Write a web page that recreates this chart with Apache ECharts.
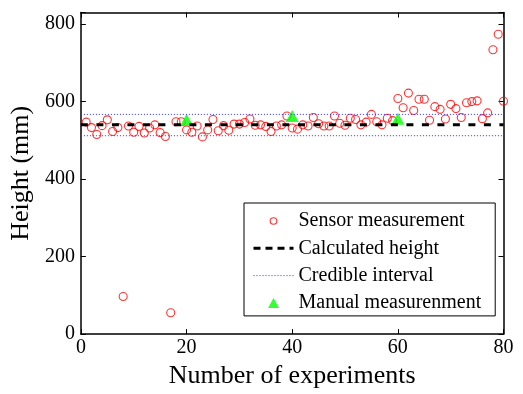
<!DOCTYPE html>
<html><head><meta charset="utf-8">
<script src="https://cdn.jsdelivr.net/npm/echarts@6/dist/echarts.min.js"></script>
<style>html,body{margin:0;padding:0;background:#fff}#c{width:523px;height:394px}</style>
</head><body><div id="c"></div>
<script>
const experiments = [1,2,3,4,5,6,7,8,9,10,11,12,13,14,15,16,17,18,19,20,
  21,22,23,24,25,26,27,28,29,30,31,32,33,34,35,36,37,38,39,40,
  41,42,43,44,45,46,47,48,49,50,51,52,53,54,55,56,57,58,59,60,
  61,62,63,64,65,66,67,68,69,70,71,72,73,74,75,76,77,78,79,80];
const sensorHeight = [547,533,515,538,553,523,533,97,537,521,
  536,519,532,540,520,510,55,548,548,527,
  521,537,509,527,554,525,538,526,542,542,
  546,555,539,540,536,523,537,540,563,532,
  529,540,537,559,543,537,537,563,544,539,
  557,554,540,547,567,548,540,557,551,608,
  584,622,577,606,606,552,587,580,555,593,
  582,559,597,600,602,556,571,734,774,601];
const manualExperiments = [20,40,60];
const manualHeight = [553,563,556];
const calculatedHeight = 540;
const credibleUpper = 567;
const credibleLower = 512;
const lineRange = [0,80];
const xTicks = [0,20,40,60,80];
const yTicks = [0,200,400,600,800];

const FONT = 'Liberation Serif';
const chart = echarts.init(document.getElementById('c'), null, {renderer:'canvas'});
const axisLine = {show:true, onZero:false, lineStyle:{color:'#000', width:1.5}};
const axisTick = {show:true, inside:true, length:5, lineStyle:{color:'#000', width:1}};
const labelFmt = v => (yTicks.indexOf(v) >= 0 || xTicks.indexOf(v) >= 0) ? String(v) : '';

// legend icons: small shapes centred in a 40x14 box
const circleIcon = 'path://M0,0 M40,14 M23.3,7 A3.3,3.3 0 1 1 16.7,7 A3.3,3.3 0 1 1 23.3,7 Z';
const triangleIcon = 'path://M0,0 M40,14 M20,2 L25.5,12 L14.5,12 Z';

chart.setOption({
  animation:false,
  backgroundColor:'#fff',
  grid:{left:78.5, top:12.5, width:425, height:328, containLabel:false},
  xAxis:[
    {type:'value', min:xTicks[0], max:xTicks[xTicks.length-1], interval:20, position:'bottom',
     axisLine, axisTick,
     axisLabel:{color:'#000', fontFamily:FONT, fontSize:20, margin:4},
     splitLine:{show:false},
     name:'Number of experiments', nameLocation:'middle', nameGap:25,
     nameTextStyle:{color:'#000', fontFamily:FONT, fontSize:26}},
    {type:'value', min:xTicks[0], max:xTicks[xTicks.length-1], interval:20, position:'top',
     axisLine, axisTick, axisLabel:{show:false}, splitLine:{show:false}}
  ],
  yAxis:[
    {type:'value', min:0, max:830, interval:200, position:'left',
     axisLine, axisTick,
     axisLabel:{color:'#000', fontFamily:FONT, fontSize:20, margin:6, formatter:labelFmt},
     splitLine:{show:false},
     name:'Height (mm)', nameLocation:'middle', nameGap:39,
     nameTextStyle:{color:'#000', fontFamily:FONT, fontSize:26}},
    {type:'value', min:0, max:830, interval:200, position:'right',
     axisLine, axisTick, axisLabel:{show:false}, splitLine:{show:false}}
  ],
  legend:{
    orient:'vertical', left:244, top:203,
    itemWidth:40, itemHeight:14, itemGap:7.3,
    padding:[8,14,3,8],
    borderColor:'#000', borderWidth:1, backgroundColor:'#fff',
    textStyle:{fontFamily:FONT, fontSize:20, color:'#000', lineHeight:20},
    data:[
      {name:'Sensor measurement', icon:circleIcon,
       itemStyle:{color:'rgba(255,255,255,0)', borderColor:'#ff0000', borderWidth:1.1}},
      {name:'Calculated height', itemStyle:{opacity:0},
       lineStyle:{color:'#000', width:3, type:[7,5]}},
      {name:'Credible interval', itemStyle:{opacity:0},
       lineStyle:{color:'#3333ff', width:1, type:[1,2]}},
      {name:'Manual measurenment', icon:triangleIcon, itemStyle:{color:'#00ff00'}}
    ]
  },
  series:[
    {name:'Sensor measurement', type:'scatter', symbol:'circle', symbolSize:8,
     data: experiments.map((x,i)=>[x, sensorHeight[i]]),
     itemStyle:{color:'rgba(255,255,255,0)', borderColor:'#ff0000', borderWidth:1.1}},
    {name:'Calculated height', type:'line', symbol:'none',
     data: lineRange.map(x=>[x, calculatedHeight]),
     itemStyle:{color:'#000'},
     lineStyle:{color:'#000', width:3, type:[7,8.5]}},
    {name:'Credible interval', type:'line', symbol:'none',
     data: lineRange.map(x=>[x, credibleUpper]),
     itemStyle:{color:'#3333ff'},
     lineStyle:{color:'#3333ff', width:1, type:[1,2]}},
    {name:'Credible interval', type:'line', symbol:'none',
     data: lineRange.map(x=>[x, credibleLower]),
     itemStyle:{color:'#3333ff'},
     lineStyle:{color:'#3333ff', width:1, type:[1,2]}},
    {name:'Manual measurenment', type:'scatter', symbol:'triangle', symbolSize:[13,12],
     data: manualExperiments.map((x,i)=>[x, manualHeight[i]]),
     itemStyle:{color:'#00ff00'}}
  ]
});
</script></body></html>
